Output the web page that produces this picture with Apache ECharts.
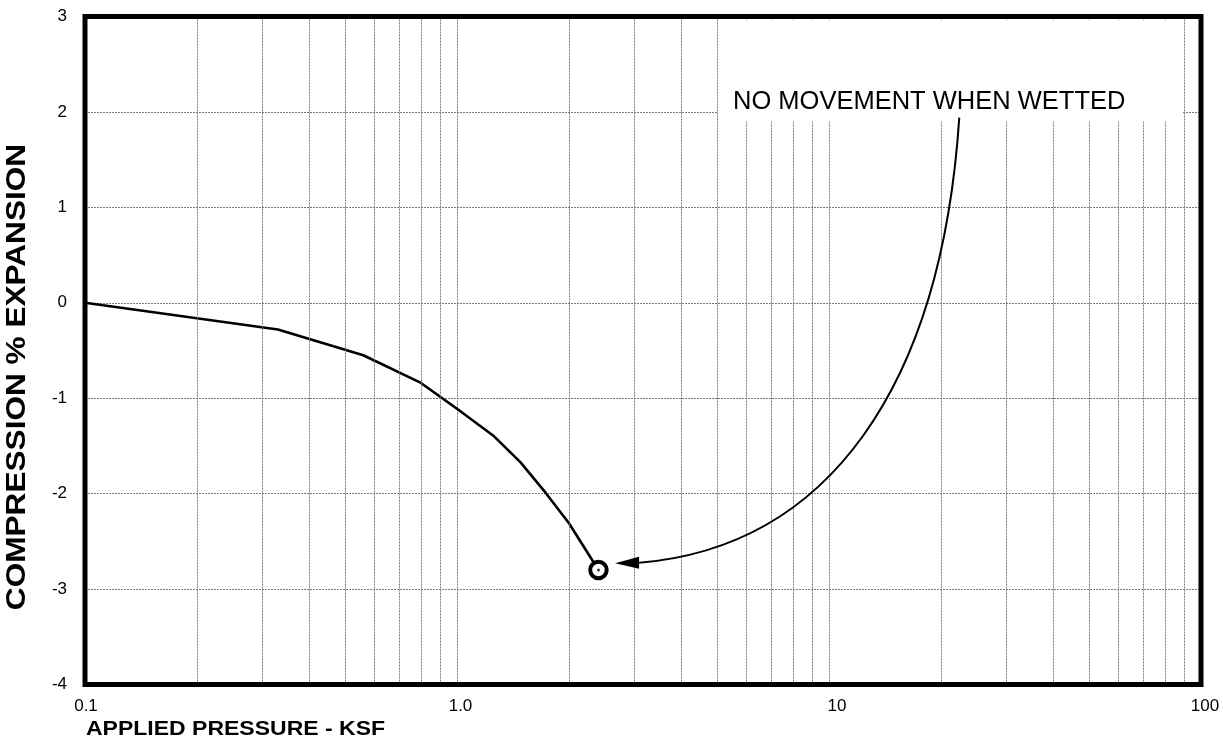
<!DOCTYPE html>
<html><head><meta charset="utf-8">
<script src="https://cdn.jsdelivr.net/npm/echarts@6/dist/echarts.min.js"></script>
<style>html,body{margin:0;padding:0;background:#fff}#c{width:1223px;height:740px}</style>
</head><body><div id="c"></div>
<script>
// ---- data ----
const pressure = [0.1, 0.33, 0.56, 0.8, 1.0, 1.25, 1.48, 1.73, 2.0, 2.4];
const strain   = [0, -0.28, -0.55, -0.84, -1.11, -1.39, -1.67, -1.99, -2.31, -2.80];
const wettedPoint = [2.4, -2.80];
const xTickValues = [0.1, 1, 10, 100];
const xTickLabels = ['0.1', '1.0', '10', '100'];
const minorGridX = [0.2,0.3,0.4,0.5,0.6,0.7,0.8,0.9, 2,3,4,5,6,7,8,9, 20,30,40,50,60,70,80,90];
const xTitle = 'APPLIED PRESSURE - KSF';
const yTitle = 'COMPRESSION % EXPANSION';
const annotationText = 'NO MOVEMENT WHEN WETTED';
const annotationBoxX = [5, 90];
const annotationBoxY = [1.9, 2.96];
const annotationTextAt = [5.52, 2.1];
const arrowStart = [22.4, 1.94];
const arrowEnd = [2.66, -2.73];

const FONT = '"Liberation Sans", Arial, sans-serif';
const gridStyle = { color: '#7a7a7a', width: 1, type: [2, 1] };
const labelShift = { '0.1': 2, '1.0': 7, '10': 16, '100': 8 };
const TICK_FS = 17;

const chart = echarts.init(document.getElementById('c'), null, { renderer: 'canvas' });
const richBase = { fontFamily: FONT, fontSize: TICK_FS, color: '#000' };
const option = {
  animation: false,
  backgroundColor: '#fff',
  grid: { left: 85, top: 16.5, right: 22, bottom: 55.5, show: false },
  xAxis: {
    type: 'log', logBase: 10, min: 0.1, max: 100,
    axisLine: { show: false }, axisTick: { show: false },
    splitLine: { show: true, lineStyle: gridStyle },
    axisLabel: {
      margin: 13, fontFamily: FONT, fontSize: TICK_FS, color: '#000',
      formatter: function (v) {
        const i = xTickValues.findIndex(t => Math.abs(Math.log10(t) - Math.log10(v)) < 1e-6);
        if (i < 0) return '';
        return '{s' + i + '|' + xTickLabels[i] + '}';
      },
      rich: {
        s0: Object.assign({ padding: [0, 0, 0, labelShift['0.1']] }, richBase),
        s1: Object.assign({ padding: [0, 0, 0, labelShift['1.0']] }, richBase),
        s2: Object.assign({ padding: [0, 0, 0, labelShift['10']] }, richBase),
        s3: Object.assign({ padding: [0, 0, 0, labelShift['100']] }, richBase)
      }
    }
  },
  yAxis: {
    type: 'value', min: -4, max: 3, interval: 1,
    axisLine: { show: false }, axisTick: { show: false },
    splitLine: { show: true, lineStyle: gridStyle },
    axisLabel: { margin: 18, fontFamily: FONT, fontSize: TICK_FS, color: '#000' }
  },
  series: [
    {
      type: 'line', data: [], z: 1, silent: true,
      markLine: {
        silent: true, symbol: 'none', animation: false,
        label: { show: false },
        lineStyle: gridStyle,
        data: minorGridX.map(v => ({ xAxis: v }))
      }
    },
    {
      type: 'line', z: 3,
      data: pressure.map((p, i) => [p, strain[i]]),
      showSymbol: false, smooth: false,
      lineStyle: { color: '#000', width: 2.6 }
    },
    {
      type: 'scatter', z: 4,
      data: [wettedPoint],
      symbol: 'circle', symbolSize: 16.5,
      itemStyle: { color: '#fff', borderColor: '#000', borderWidth: 4, opacity: 1 }
    },
    {
      type: 'scatter', z: 5,
      data: [wettedPoint],
      symbol: 'circle', symbolSize: 3,
      itemStyle: { color: '#000' }
    }
  ]
};
chart.setOption(option);

const px = v => chart.convertToPixel({ gridIndex: 0 }, v);
const f0 = px([0.1, 3]);
const f1 = px([100, -4]);
const b0 = px([annotationBoxX[0], annotationBoxY[1]]);
const b1 = px([annotationBoxX[1], annotationBoxY[0]]);
const tp = px(annotationTextAt);
const S = px(arrowStart);
const T = px(arrowEnd);
const E = [T[0] + 24, T[1] - 0.5];
const C1 = [S[0] - 18, S[1] + 270];
const C2 = [E[0] + 189, E[1] - 16];

chart.setOption({
  graphic: [
    { type: 'rect', z: 100, silent: true,
      shape: { x: b0[0] + 1, y: b0[1], width: b1[0] - b0[0] - 2, height: b1[1] - b0[1] },
      style: { fill: '#fff' } },
    { type: 'text', z: 101, silent: true, x: tp[0], y: tp[1],
      style: { text: annotationText, fontFamily: FONT, fontSize: 25.5, fill: '#000', align: 'left', verticalAlign: 'middle' } },
    { type: 'bezierCurve', z: 102, silent: true,
      shape: { x1: S[0], y1: S[1], cpx1: C1[0], cpy1: C1[1], cpx2: C2[0], cpy2: C2[1], x2: E[0], y2: E[1] },
      style: { stroke: '#000', lineWidth: 2, fill: null } },
    { type: 'polygon', z: 103, silent: true,
      shape: { points: [[T[0], T[1]], [E[0], E[1] - 6], [E[0], E[1] + 6]] },
      style: { fill: '#000' } },
    { type: 'rect', z: 110, silent: true,
      shape: { x: f0[0], y: f0[1], width: f1[0] - f0[0], height: f1[1] - f0[1] },
      style: { fill: null, stroke: '#000', lineWidth: 5 } },
    { type: 'text', z: 101, silent: true, x: 86, y: 729, scaleX: 1.15,
      style: { text: xTitle, fontFamily: FONT, fontWeight: 'bold', fontSize: 20, fill: '#000', align: 'left', verticalAlign: 'middle' } },
    { type: 'text', z: 101, silent: true, x: 18, y: 377, rotation: Math.PI / 2, scaleX: 1.17,
      style: { text: yTitle, fontFamily: FONT, fontWeight: 'bold', fontSize: 27, fill: '#000', align: 'center', verticalAlign: 'middle' } }
  ]
});
</script></body></html>
